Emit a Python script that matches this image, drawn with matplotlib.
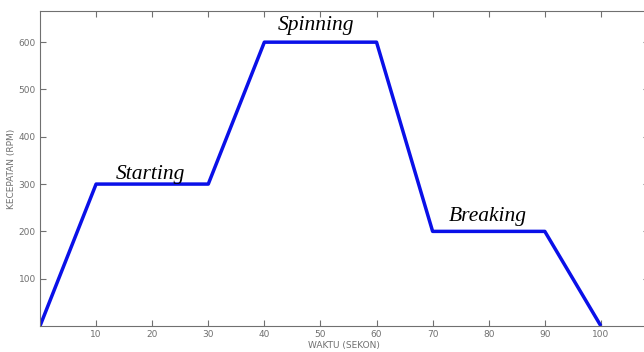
import matplotlib
matplotlib.use("Agg")
import matplotlib.pyplot as plt

# profil kecepatan motor
waktu = [0, 10, 30, 40, 60, 70, 90, 100]
kecepatan = [0, 300, 300, 600, 600, 200, 200, 0]
xticks = [10, 20, 30, 40, 50, 60, 70, 80, 90, 100]
yticks = [100, 200, 300, 400, 500, 600]
labels = ["Starting", "Spinning", "Breaking"]
label_pos = [(19.7, 300), (49.2, 615), (79.8, 212)]

grey = "#707070"
fig = plt.figure(figsize=(6.44, 3.52), dpi=100)
ax = fig.add_axes([0.0621, 0.0739, 0.945, 0.895])

ax.plot(waktu, kecepatan, color="#0a10e8", linewidth=2.5, solid_capstyle="butt")

ax.set_xlim(0, 108.5)
ax.set_ylim(0, 666)
ax.set_xticks(xticks)
ax.set_yticks(yticks)
ax.tick_params(direction="in", top=True, right=True, length=4, width=0.8,
               color=grey, labelcolor=grey, labelsize=6.5, pad=3)
for s in ax.spines.values():
    s.set_color(grey)
    s.set_linewidth(0.8)

ax.set_xlabel("WAKTU (SEKON)", fontsize=6.5, color=grey, labelpad=1)
ax.set_ylabel("KECEPATAN (RPM)", fontsize=6.5, color=grey, labelpad=2)

for txt, (x, y) in zip(labels, label_pos):
    ax.text(x, y, txt, fontsize=15.5, style="italic", family="Liberation Serif",
            ha="center", va="bottom")

fig.savefig("out.png", dpi=100)
